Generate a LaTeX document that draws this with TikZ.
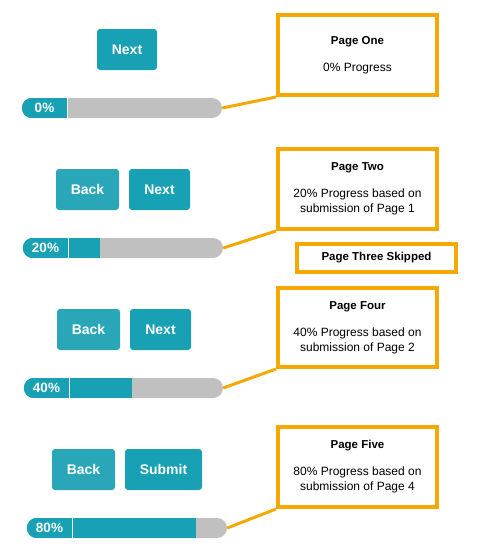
\documentclass[tikz,border=0pt]{standalone}
\usepackage{fontspec}
\setmainfont{Liberation Sans}
\definecolor{tealc}{HTML}{18A0B4}
\definecolor{tealb}{HTML}{29A7B9}
\definecolor{grayc}{HTML}{C0C0C0}
\definecolor{orangec}{HTML}{F5A800}
\begin{document}
\begin{tikzpicture}[x=1pt,y=-1pt,
  btn/.style={fill=tealc, rounded corners=3pt, minimum height=41pt, inner sep=0pt,
    text=white, font=\fontsize{14}{16}\selectfont\bfseries},
  btnback/.style={btn, fill=tealb},
  bar/.style={fill=grayc, rounded corners=10pt, minimum height=20pt, inner sep=0pt, minimum width=200pt},
  barlbl/.style={text=white, inner sep=0pt, font=\fontsize{13.5}{15}\selectfont\bfseries},
  callout/.style={draw=orangec, line width=4pt, minimum width=159pt, inner sep=0pt,
    align=center, font=\fontsize{12}{15}\selectfont},
  conn/.style={draw=orangec, line width=3pt},
  ttl/.style={font=\fontsize{11.5}{15}\selectfont\bfseries}
]
\useasboundingbox (0,0) rectangle (479,552);

% ---------- Row 1 ----------
\node[btn, minimum width=60pt] (n1) at (127,49.5) {Next};
\node[bar] (b1) at (122,108) {};
\begin{scope}
  \clip[rounded corners=10pt] (b1.south west) rectangle (b1.north east);
  \fill[tealc] (b1.north west) rectangle (67,118);
\end{scope}
\draw[white, line width=1pt] (67,98) -- (67,118);
\node[barlbl] (l1) at (44.5,108) {0\%};
\node[callout, minimum height=80pt] (c1) at (357.5,55)
  {{\fontsize{11.5}{15}\selectfont\bfseries Page One}\\[12pt]0\% Progress};
\draw[conn] (b1.east) -- (c1.south west);

% ---------- Row 2 ----------
\node[btnback, minimum width=63pt] (k2) at (87.5,189.5) {Back};
\node[btn, minimum width=61pt] (n2) at (159.5,189.5) {Next};
\node[bar] (b2) at (123,248) {};
\begin{scope}
  \clip[rounded corners=10pt] (b2.south west) rectangle (b2.north east);
  \fill[tealc] (b2.north west) rectangle (100,258);
\end{scope}
\draw[white, line width=1pt] (68,238) -- (68,258);
\node[barlbl] (l2) at (45.5,248) {20\%};
\node[callout, minimum height=80pt] (c2) at (357.5,189)
  {{\fontsize{11.5}{15}\selectfont\bfseries Page Two}\\[12pt]20\% Progress based on\\submission of Page 1};
\draw[conn] (b2.east) -- (c2.south west);

\node[callout, minimum height=28pt, font=\fontsize{11.5}{15}\selectfont\bfseries] (s3) at (376.5,258) {Page Three Skipped};

% ---------- Row 3 ----------
\node[btnback, minimum width=63pt] (k3) at (88.5,329.5) {Back};
\node[btn, minimum width=61pt] (n3) at (160.5,329.5) {Next};
\node[bar, minimum width=199pt] (b3) at (123.5,388) {};
\begin{scope}
  \clip[rounded corners=10pt] (b3.south west) rectangle (b3.north east);
  \fill[tealc] (b3.north west) rectangle (132,398);
\end{scope}
\draw[white, line width=1pt] (69,378) -- (69,398);
\node[barlbl] (l3) at (46.5,388) {40\%};
\node[callout, minimum height=79pt] (c3) at (357.5,327.5)
  {{\fontsize{11.5}{15}\selectfont\bfseries Page Four}\\[12pt]40\% Progress based on\\submission of Page 2};
\draw[conn] (b3.east) -- (c3.south west);

% ---------- Row 4 ----------
\node[btnback, minimum width=63pt] (k4) at (83.5,469.5) {Back};
\node[btn, minimum width=77pt] (n4) at (163.5,469.5) {Submit};
\node[bar] (b4) at (127,528) {};
\begin{scope}
  \clip[rounded corners=10pt] (b4.south west) rectangle (b4.north east);
  \fill[tealc] (b4.north west) rectangle (196,538);
\end{scope}
\draw[white, line width=1pt] (72,518) -- (72,538);
\node[barlbl] (l4) at (49.5,528) {80\%};
\node[callout, minimum height=80pt] (c4) at (357.5,467)
  {{\fontsize{11.5}{15}\selectfont\bfseries Page Five}\\[12pt]80\% Progress based on\\submission of Page 4};
\draw[conn] (b4.east) -- (c4.south west);
\end{tikzpicture}
\end{document}
